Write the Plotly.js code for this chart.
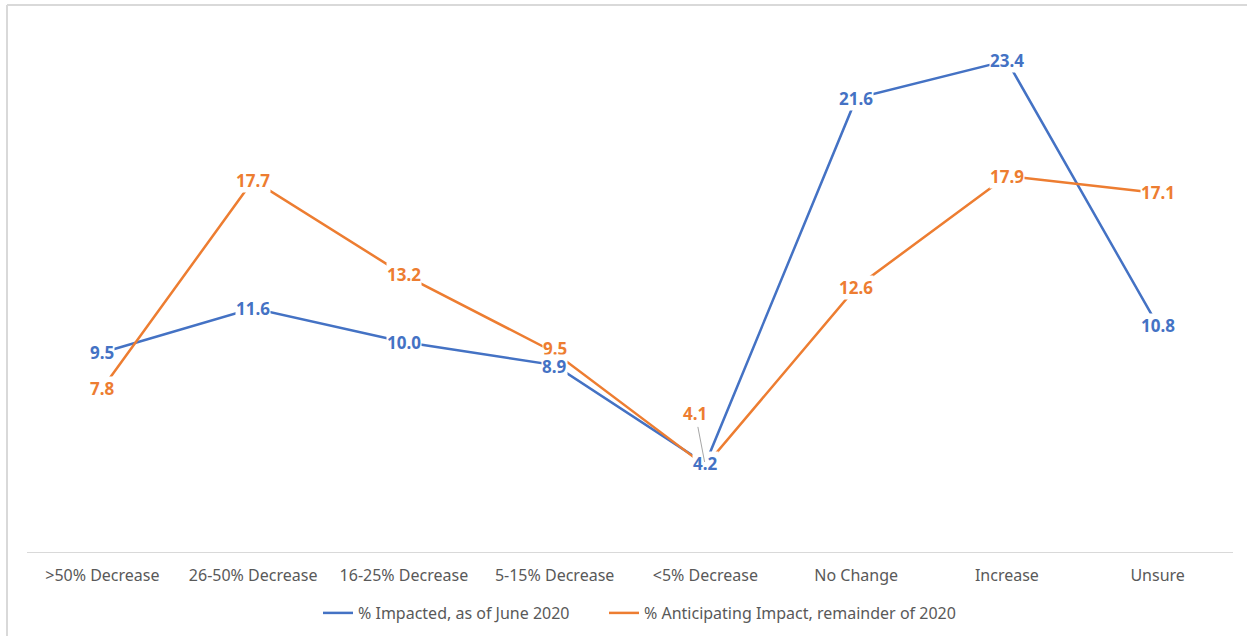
<!DOCTYPE html>
<html>
<head>
<meta charset="utf-8">
<script src="https://cdn.plot.ly/plotly-3.0.1.min.js"></script>
<style>
  html, body { margin: 0; padding: 0; background: #ffffff; }
  #chart { width: 1247px; height: 636px; }
</style>
</head>
<body>
<div id="chart"></div>
<script>
// Categories of change in volume
const categories = [
  ">50% Decrease", "26-50% Decrease", "16-25% Decrease", "5-15% Decrease",
  "<5% Decrease", "No Change", "Increase", "Unsure"
];

// Share of respondents (%) per category
const impactedJune2020 = [9.5, 11.6, 10.0, 8.9, 4.2, 21.6, 23.4, 10.8];
const anticipatingRest2020 = [7.8, 17.7, 13.2, 9.5, 4.1, 12.6, 17.9, 17.1];

const seriesNames = [
  "% Impacted, as of June 2020",
  "% Anticipating Impact, remainder of 2020"
];

const BLUE = "#4472C4";
const ORANGE = "#ED7D31";
const FONT = "Noto Sans, Open Sans, sans-serif";

const traces = [
  {
    x: categories, y: impactedJune2020, name: seriesNames[0],
    type: "scatter", mode: "lines", legend: "legend",
    line: { color: BLUE, width: 2.5 }, hoverinfo: "x+y"
  },
  {
    x: categories, y: anticipatingRest2020, name: seriesNames[1],
    type: "scatter", mode: "lines", legend: "legend2",
    line: { color: ORANGE, width: 2.5 }, hoverinfo: "x+y"
  }
];

// Value labels sit on the points with a white box so the line breaks around them
function valueLabel(cat, val, color, yshift) {
  return {
    x: cat, y: val, xref: "x", yref: "y", yshift: yshift || 0,
    text: val.toFixed(1), showarrow: false,
    font: { family: FONT, size: 17, color: color, weight: 700 },
    bgcolor: "#ffffff", borderpad: 0
  };
}

const annotations = [];
const idxSmall = categories.indexOf("<5% Decrease");
const idxMid = categories.indexOf("5-15% Decrease");
categories.forEach((c, i) => {
  if (i === idxSmall) return;
  // nudge the label that crowds its neighbour below
  annotations.push(valueLabel(c, anticipatingRest2020[i], ORANGE, i === idxMid ? 4 : 0));
});
categories.forEach((c, i) => {
  annotations.push(valueLabel(c, impactedJune2020[i], BLUE, i === idxMid ? -1 : 0));
});
// The "<5% Decrease" anticipated value is moved up with a leader line
annotations.push({
  x: categories[idxSmall], y: anticipatingRest2020[idxSmall], xref: "x", yref: "y",
  text: anticipatingRest2020[idxSmall].toFixed(1),
  font: { family: FONT, size: 17, color: ORANGE, weight: 700 },
  showarrow: true, arrowhead: 0, arrowwidth: 1, arrowcolor: "#a6a6a6",
  ax: -10, ay: -52, standoff: 4, bgcolor: "rgba(0,0,0,0)"
});

// Two legend boxes side by side along the bottom
function legendBox(xPx) {
  return {
    orientation: "h", xref: "paper", x: (xPx - 27) / 1206, xanchor: "left",
    yref: "container", y: 23 / 636, yanchor: "middle",
    font: { family: FONT, size: 16, color: "#595959" },
    itemwidth: 30, bgcolor: "rgba(0,0,0,0)"
  };
}

const layout = {
  width: 1247, height: 636,
  margin: { l: 27, r: 14, t: 27, b: 84, pad: 0, autoexpand: false },
  paper_bgcolor: "#ffffff", plot_bgcolor: "#ffffff",
  showlegend: true,
  legend: legendBox(318),
  legend2: legendBox(604),
  xaxis: {
    type: "category", range: [-0.5, categories.length - 0.5],
    showline: true, linecolor: "#d9d9d9", linewidth: 1.3,
    showgrid: false, zeroline: false, ticks: "",
    tickfont: { family: FONT, size: 16, color: "#595959" },
    ticklabelstandoff: 8, fixedrange: true, automargin: false
  },
  yaxis: {
    range: [0, 25], visible: false, showgrid: false, zeroline: false,
    fixedrange: true, automargin: false
  },
  annotations: annotations,
  shapes: [
    { type: "line", xref: "paper", yref: "paper",
      x0: -20 / 1206, x1: -20 / 1206, y0: 1 + 22 / 525, y1: -90 / 525,
      line: { color: "#d9d9d9", width: 2 } },
    { type: "line", xref: "paper", yref: "paper",
      x0: -20 / 1206, x1: 1 + 20 / 1206, y0: 1 + 22 / 525, y1: 1 + 22 / 525,
      line: { color: "#d9d9d9", width: 2 } }
  ]
};

Plotly.newPlot("chart", traces, layout, { displayModeBar: false, staticPlot: true });
</script>
</body>
</html>
